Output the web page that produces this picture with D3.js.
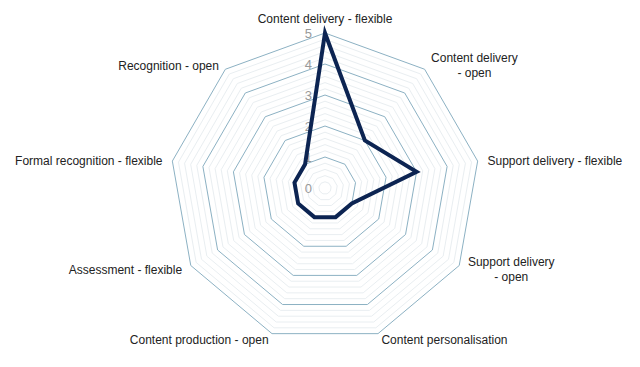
<!DOCTYPE html>
<html>
<head>
<meta charset="utf-8">
<script src="https://cdn.jsdelivr.net/npm/d3@7"></script>
<style>
    body { margin: 0; background: #fff; }
    svg text { font-family: "Liberation Sans", Arial, sans-serif; }
</style>
</head>
<body>
<div class="chart"></div>
<script>
// axis labels, clockwise from the top (line breaks as drawn)
var categories = [
    ["Content delivery - flexible"],
    ["Content delivery", "- open"],
    ["Support delivery - flexible"],
    ["Support delivery", "- open"],
    ["Content personalisation"],
    ["Content production - open"],
    ["Assessment - flexible"],
    ["Formal recognition - flexible"],
    ["Recognition - open"]
];
var values = [5, 2, 3, 1, 1, 1, 1, 1, 1];
var majorTicks = [0, 1, 2, 3, 4, 5];
var minorTicks = d3.range(0.2, 5, 0.2).filter(function(v) { return Math.abs(v - Math.round(v)) > 0.01; });

var dim = { width: 640, height: 367, cx: 325, cy: 188, radius: 155 };

var r = d3.scaleLinear()
    .domain([0, 5])
    .range([0, dim.radius]);

var angle = d3.scaleLinear()
    .domain([0, categories.length])
    .range([0, 2 * Math.PI]);

function ring(v) {
    return categories.map(function(c, i) {
        var a = angle(i);
        return [Math.sin(a) * r(v), -Math.cos(a) * r(v)];
    });
}

var poly = d3.line().curve(d3.curveLinearClosed);

var svg = d3.select(".chart").append("svg")
    .attr("width", dim.width)
    .attr("height", dim.height);

var g = svg.append("g")
    .attr("transform", "translate(" + dim.cx + "," + dim.cy + ")");

g.append("g").attr("class", "minor grid")
    .selectAll("path").data(minorTicks)
    .enter().append("path")
    .attr("d", function(d) { return poly(ring(d)); })
    .attr("fill", "none")
    .attr("stroke", "#e9eef1")
    .attr("stroke-width", 1);

g.append("g").attr("class", "major grid")
    .selectAll("path").data(majorTicks.filter(function(d) { return d > 0; }))
    .enter().append("path")
    .attr("d", function(d) { return poly(ring(d)); })
    .attr("fill", "none")
    .attr("stroke", "#8cb1c3")
    .attr("stroke-width", 1);

// radial tick labels along the top axis
g.append("g").attr("class", "y axis")
    .selectAll("text").data(majorTicks)
    .enter().append("text")
    .attr("x", -13)
    .attr("y", function(d) { return -r(d); })
    .attr("dy", "0.35em")
    .attr("text-anchor", "end")
    .attr("fill", "#999")
    .style("font-size", "13px")
    .text(function(d) { return d; });

// series
var points = values.map(function(v, i) {
    var a = angle(i);
    return [Math.sin(a) * r(v), -Math.cos(a) * r(v)];
});

g.append("path")
    .attr("class", "series")
    .attr("d", poly(points))
    .attr("fill", "none")
    .attr("stroke", "#0c2452")
    .attr("stroke-width", 4)
    .attr("stroke-linejoin", "miter");

// category labels
var labels = g.append("g").attr("class", "x axis")
    .selectAll("text").data(categories)
    .enter().append("text")
    .attr("fill", "#222")
    .style("font-size", "12px");

labels.each(function(lines, i) {
    var a = angle(i),
        s = Math.sin(a),
        c = Math.cos(a),
        x = s * (dim.radius + 10),
        y = -c * (dim.radius + 10),
        t = d3.select(this),
        lh = 15;

    var spans = t.selectAll("tspan").data(lines).enter().append("tspan")
        .text(function(d) { return d; });

    var w = d3.max(spans.nodes(), function(n) { return n.getComputedTextLength(); });
    var cxText = Math.abs(s) < 0.05 ? x : (s > 0 ? x + w / 2 : x - w / 2);
    // vertical centre of the label block, nudged the way the original sits
    var mid = Math.abs(s) < 0.05 ? y - 4 : y + 1 + 4 * c;
    var top = mid + 4 - (lines.length - 1) * lh / 2;

    t.attr("text-anchor", "middle");
    spans.attr("x", cxText)
        .attr("y", function(d, k) { return top + k * lh; });
});
</script>
</body>
</html>
